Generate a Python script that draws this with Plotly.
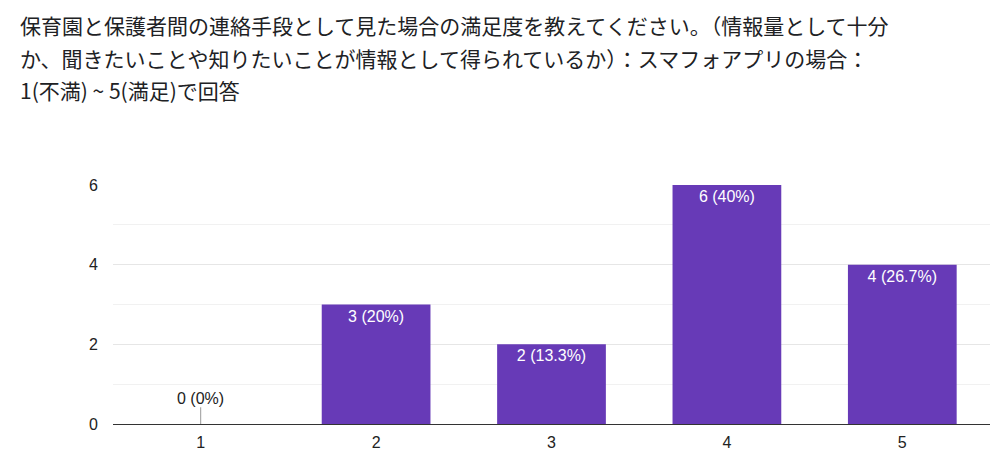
import plotly.graph_objects as go

# Данные опроса
categories = ["1", "2", "3", "4", "5"]
counts = [0, 3, 2, 6, 4]
percents = ["0%", "20%", "13.3%", "40%", "26.7%"]
title_lines = [
    "保育園と保護者間の連絡手段として見た場合の満足度を教えてください。（情報量として十分",
    "か、聞きたいことや知りたいことが情報として得られているか）：スマフォアプリの場合：",
    "1(不満) ~ 5(満足)で回答",
]
y_ticks = [0, 2, 4, 6]

labels = [f"{c} ({p})" for c, p in zip(counts, percents)]
font = "Noto Sans CJK JP, Roboto, Arial, sans-serif"
num_font = "Liberation Sans, Arial, sans-serif"

fig = go.Figure()

fig.add_trace(go.Bar(
    x=categories,
    y=counts,
    width=0.62,
    marker=dict(color="#673ab7", line=dict(width=0)),
    text=[lab if c > 0 else "" for lab, c in zip(labels, counts)],
    textposition="inside",
    insidetextanchor="end",
    textangle=0,
    textfont=dict(color="#ffffff", size=16, family=num_font),
    hoverinfo="skip",
))

# Нулевые столбцы: засечка и подпись над осью
for i, (c, lab) in enumerate(zip(counts, labels)):
    if c == 0:
        fig.add_shape(type="line", xref="x", yref="paper", x0=i, x1=i,
                      y0=0, y1=0.07, line=dict(color="#999999", width=1))
        fig.add_annotation(x=i, y=0, xref="x", yref="y", text=lab,
                           showarrow=False, yanchor="middle", yshift=26,
                           font=dict(color="#222222", size=16, family=num_font))

# Заголовок построчно (над областью графика, в пикселях)
for i, line in enumerate(title_lines):
    fig.add_annotation(text=line, xref="paper", yref="paper",
                       x=0, xshift=-95, y=1, yshift=160 - 32.5 * i,
                       xanchor="left", yanchor="middle", showarrow=False,
                       font=dict(color="#202124", size=21, family=font))

fig.update_layout(
    width=984, height=449,
    margin=dict(l=105, r=2, t=177, b=33),
    paper_bgcolor="#ffffff",
    plot_bgcolor="#ffffff",
    showlegend=False,
    bargap=0.38,
    xaxis=dict(
        type="category",
        showline=True, linecolor="#333333", linewidth=1,
        showgrid=False, ticks="",
        ticklabelstandoff=4,
        tickfont=dict(color="#222222", size=16, family=num_font),
    ),
    yaxis=dict(
        range=[0, 6], tickvals=y_ticks,
        showgrid=True, gridcolor="#e6e6e6", gridwidth=1,
        minor=dict(dtick=1, showgrid=True, gridcolor="#f1f1f1"),
        zeroline=False, showline=False, ticks="",
        ticklabelstandoff=14,
        tickfont=dict(color="#222222", size=16, family=num_font),
    ),
)

fig.write_html("out.html")
